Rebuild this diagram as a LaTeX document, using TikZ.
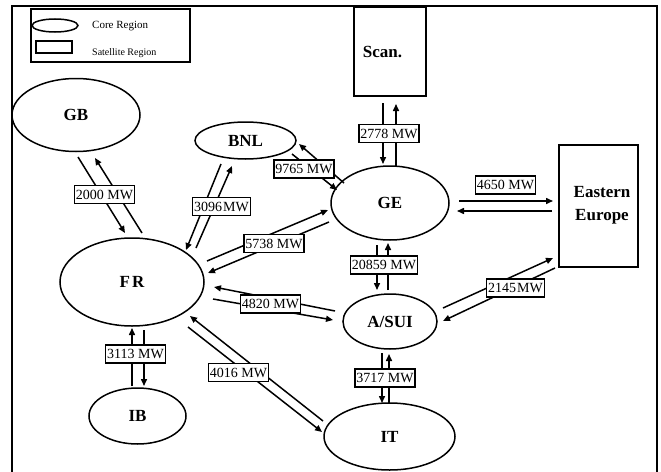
\documentclass[tikz,border=0pt]{standalone}
\usepackage{fontspec}
\setmainfont{Liberation Serif}
\usetikzlibrary{shapes.geometric,arrows.meta}
\begin{document}
\begin{tikzpicture}[x=1pt,y=-1pt,
  core/.style={ellipse,draw,line width=1.5pt,inner sep=0pt,font=\fontsize{17}{17}\selectfont\bfseries},
  sat/.style={rectangle,draw,line width=1.6pt,inner sep=0pt},
  regtxt/.style={inner sep=0pt,font=\fontsize{17}{23}\selectfont\bfseries,align=center},
  flow/.style={line width=1.5pt,-{Triangle[length=7pt,width=6pt]}},
  lbl/.style={draw,fill=white,line width=1.6pt,inner xsep=1.5pt,inner ysep=0pt,minimum height=18pt,font=\fontsize{14}{14}\selectfont},
  legtxt/.style={inner sep=0pt,anchor=west}]
\useasboundingbox (0,0) rectangle (661,471);
\draw[line width=2pt] (12,475) -- (12,6) -- (657,6) -- (657,475);

% legend
\node[draw,line width=1.6pt,minimum width=159pt,minimum height=53pt,inner sep=0pt] (legend) at (110.5,35.5) {};
\node[ellipse,draw,line width=1.5pt,minimum width=46pt,minimum height=13pt,inner sep=0pt] (legcore) at (55,25.5) {};
\node[draw,line width=1.5pt,minimum width=36pt,minimum height=12pt,inner sep=0pt] (legsat) at (54,47) {};
\node[legtxt,font=\fontsize{11}{11}\selectfont] (legcoretxt) at (92,26) {Core Region};
\node[legtxt,font=\fontsize{10}{10}\selectfont] (legsattxt) at (92,53) {Satellite Region};

% regions
\node[core,minimum width=128pt,minimum height=73pt] (GB) at (76,115) {GB};
\node[core,minimum width=101pt,minimum height=37pt] (BNL) at (245.5,140.5) {BNL};
\node[core,minimum width=144pt,minimum height=88pt] (FR) at (132,282) {F\kern2pt R};
\node[core,minimum width=97pt,minimum height=56pt] (IB) at (137.5,416) {IB};
\node[core,minimum width=118pt,minimum height=74pt] (GE) at (390,203) {GE};
\node[core,minimum width=94pt,minimum height=55pt] (ASUI) at (390,321.5) {A/SUI};
\node[core,minimum width=131pt,minimum height=67pt] (IT) at (389.5,436.5) {IT};
\node[sat,minimum width=72pt,minimum height=89pt] (Scan) at (390,51.5) {};
\node[regtxt] (Scantxt) at (382.5,52) {Scan.};
\node[sat,minimum width=79pt,minimum height=122pt] (EE) at (598.5,206) {};
\node[regtxt] (EEtxt) at (602,205) {Eastern\\Europe};

% connector end points
\coordinate (gbA0) at (78,157);  \coordinate (gbA1) at (125,233);
\coordinate (gbB0) at (142,233); \coordinate (gbB1) at (95,158);
\coordinate (bnA0) at (196,248); \coordinate (bnA1) at (232,166);
\coordinate (bnB0) at (221,164); \coordinate (bnB1) at (186,250);
\coordinate (fgA0) at (207,261); \coordinate (fgA1) at (328,210);
\coordinate (fgB0) at (329,222); \coordinate (fgB1) at (208,273);
\coordinate (bgA0) at (292,154); \coordinate (bgA1) at (337,190);
\coordinate (bgB0) at (344,183); \coordinate (bgB1) at (299,144);
\coordinate (gsA0) at (383,103); \coordinate (gsA1) at (383,164);
\coordinate (gsB0) at (396,166); \coordinate (gsB1) at (396,104);
\coordinate (geA0) at (459,201); \coordinate (geA1) at (553,201);
\coordinate (geB0) at (552,211); \coordinate (geB1) at (457,211);
\coordinate (gaA0) at (377,245); \coordinate (gaA1) at (377,290);
\coordinate (gaB0) at (388,290); \coordinate (gaB1) at (388,243);
\coordinate (faA0) at (335,311); \coordinate (faA1) at (214,287);
\coordinate (faB0) at (213,299); \coordinate (faB1) at (333,320);
\coordinate (aeA0) at (443,308); \coordinate (aeA1) at (553,258);
\coordinate (aeB0) at (555,268); \coordinate (aeB1) at (443,321);
\coordinate (aiA0) at (382,353); \coordinate (aiA1) at (382,403);
\coordinate (aiB0) at (389,403); \coordinate (aiB1) at (389,354);
\coordinate (fiA0) at (188,327); \coordinate (fiA1) at (322,432);
\coordinate (fiB0) at (323,421); \coordinate (fiB1) at (190,316);
\coordinate (ibA0) at (132,386); \coordinate (ibA1) at (132,328);
\coordinate (ibB0) at (144,330); \coordinate (ibB1) at (144,386);

\foreach \p in {gb,bn,fg,bg,gs,ge,ga,fa,ae,ai,fi,ib}{
  \draw[flow] (\p A0) -- (\p A1);
  \draw[flow] (\p B0) -- (\p B1);
}

% labels
\node[lbl] (l1) at (104.5,194.5) {2000 MW};
\node[lbl] (l2) at (221.5,206.5) {3096\kern1pt MW};
\node[lbl] (l3) at (274,243.5) {5738 MW};
\node[lbl] (l4) at (304,169) {9765 MW};
\node[lbl] (l5) at (389,133.5) {2778 MW};
\node[lbl] (l6) at (505.5,185) {4650 MW};
\node[lbl] (l7) at (384,265) {20859 MW};
\node[lbl] (l8) at (270.5,304) {4820 MW};
\node[lbl] (l9) at (515.5,288) {2145\kern1pt MW};
\node[lbl] (l10) at (385,378) {3717 MW};
\node[lbl] (l11) at (238.5,372.5) {4016 MW};
\node[lbl] (l12) at (135.5,354) {3113 MW};
\end{tikzpicture}
\end{document}
